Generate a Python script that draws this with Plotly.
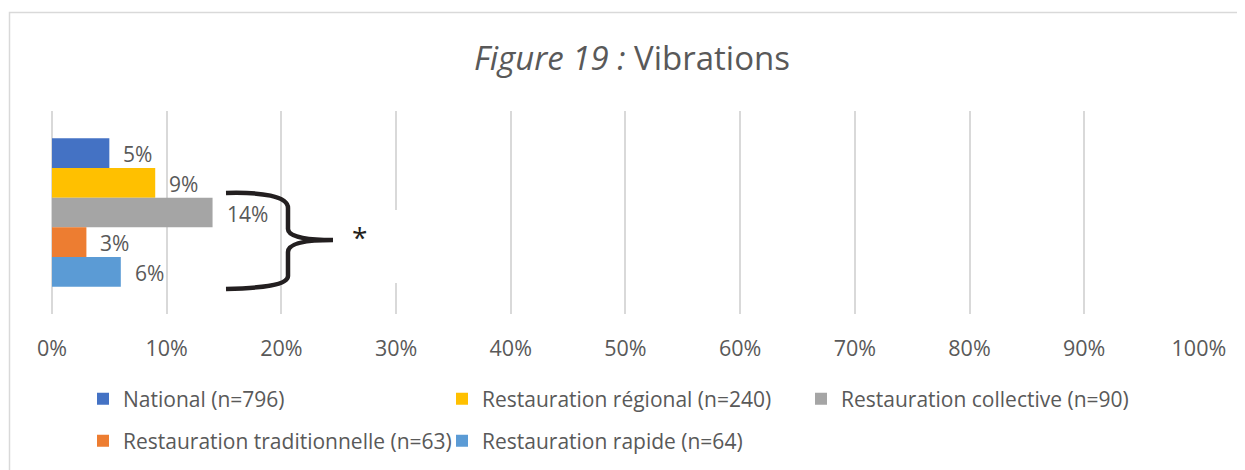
import plotly.graph_objects as go

# ---------------- data ----------------
category = ["Vibrations"]
series_names = [
    "National (n=796)",
    "Restauration régional (n=240)",
    "Restauration collective (n=90)",
    "Restauration traditionnelle (n=63)",
    "Restauration rapide (n=64)",
]
series_values = [0.05, 0.09, 0.14, 0.03, 0.06]
series_colors = ["#4472C4", "#FFC000", "#A5A5A5", "#ED7D31", "#5B9BD5"]
legend_rows = ["legend", "legend", "legend", "legend2", "legend2"]
tick_values = [i / 10 for i in range(11)]
tick_labels = [f"{i * 10}%" for i in range(11)]
title_italic = "Figure 19 :"
title_rest = " Vibrations"
significance_mark = "*"

# ---------------- layout helpers (reference pixel -> paper) ----------------
W, H = 1245, 470
OFF = 8  # page body margin in the viewer
PL, PR, PT, PB = 52, 1199, 111, 314  # plot area in reference pixels
def px2x(px):
    return (px - PL) / (PR - PL)
def py2y(py):
    return (PB - py) / (PB - PT)

FONT = "Open Sans"
TXT = "#595959"
BARGAP = 0.269

fig = go.Figure()
for name, val, col, lg in zip(series_names, series_values, series_colors, legend_rows):
    fig.add_trace(go.Bar(
        x=[val], y=category, name=name, orientation="h",
        marker=dict(color=col, line=dict(width=0)),
        legend=lg, hoverinfo="x+name",
    ))

# value labels
n = len(series_values)
bw = (1 - BARGAP) / n
annotations = []
for i, val in enumerate(series_values):
    ycen = -(1 - BARGAP) / 2 + (i + 0.5) * bw
    annotations.append(dict(
        x=val, y=ycen, xref="x", yref="y", text=f"{val * 100:.0f}%",
        showarrow=False, xanchor="left", yanchor="middle", xshift=12, yshift=-1,
        font=dict(family=FONT, size=21, color=TXT),
    ))

# title
annotations.append(dict(
    x=px2x(632), y=py2y(57), xref="paper", yref="paper",
    text=f"<i>{title_italic}</i>{title_rest}", showarrow=False,
    xanchor="center", yanchor="middle",
    font=dict(family=FONT, size=33, color=TXT),
))
# star
annotations.append(dict(
    x=px2x(359), y=py2y(237), xref="paper", yref="paper",
    text=significance_mark, showarrow=False, xanchor="center", yanchor="middle",
    font=dict(family=FONT, size=28, color="#231F20"),
))

def P(px, py):
    return f"{px2x(px):.5f},{py2y(py):.5f}"

brace = (
    f"M{P(226,193)} C{P(262,192)} {P(288,196)} {P(288,208)} "
    f"L{P(288,229)} C{P(288,238)} {P(312,240)} {P(333,240)} "
    f"C{P(312,240)} {P(288,242)} {P(288,252)} "
    f"L{P(288,276)} C{P(288,285)} {P(262,288)} {P(226,289)}"
)

shapes = [
    # outer chart border
    dict(type="rect", xref="paper", yref="paper",
         x0=px2x(9.5), x1=px2x(1300), y0=py2y(12.5), y1=py2y(520),
         line=dict(color="#D9D9D9", width=1.5), fillcolor="rgba(0,0,0,0)", layer="below"),
    # white box behind the star
    dict(type="rect", xref="paper", yref="paper",
         x0=px2x(340), x1=px2x(410), y0=py2y(283), y1=py2y(210),
         line=dict(width=0), fillcolor="white", layer="above"),
    # brace
    dict(type="path", xref="paper", yref="paper", path=brace,
         line=dict(color="#231F20", width=4.5), layer="above"),
]

legend_common = dict(
    orientation="h", xanchor="left", yanchor="middle",
    font=dict(family=FONT, size=21, color=TXT),
    bgcolor="rgba(0,0,0,0)", borderwidth=0,
    entrywidth=314, entrywidthmode="pixels", traceorder="normal",
)

fig.update_layout(
    width=W, height=H,
    margin=dict(l=PL - OFF, r=W - PR + OFF, t=PT - OFF, b=H - PB + OFF, pad=0),
    paper_bgcolor="white", plot_bgcolor="white",
    barmode="group", bargap=BARGAP, bargroupgap=0,
    showlegend=True,
    legend=dict(x=px2x(83), y=py2y(399), **legend_common),
    legend2=dict(x=px2x(83), y=py2y(441), **legend_common),
    xaxis=dict(
        range=[0, 1.0001], tickvals=tick_values, ticktext=tick_labels,
        showgrid=True, gridcolor="#D9D9D9", gridwidth=1.5,
        zeroline=True, zerolinecolor="#D9D9D9", zerolinewidth=1.5,
        showline=False, ticks="", ticklabelstandoff=19,
        tickfont=dict(family=FONT, size=21.5, color=TXT), fixedrange=True,
    ),
    yaxis=dict(
        autorange="reversed", showticklabels=False, showgrid=False,
        zeroline=False, showline=False, ticks="", fixedrange=True,
    ),
    annotations=annotations, shapes=shapes,
    font=dict(family=FONT, color=TXT),
)

fig.write_html("out.html")
